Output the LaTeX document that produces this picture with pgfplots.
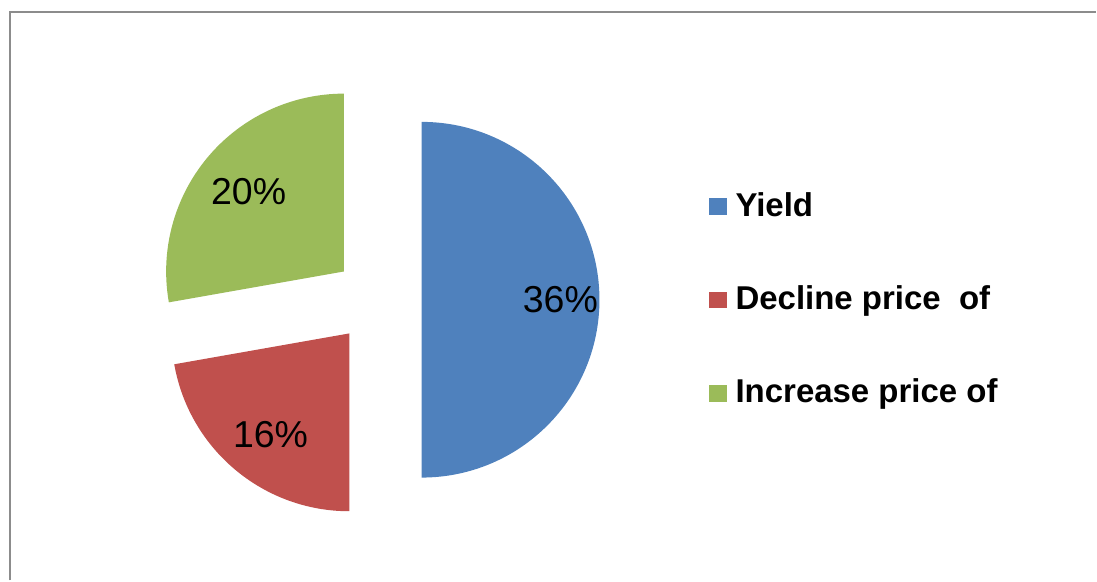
\documentclass[border=0pt]{standalone}
\usepackage{pgfplots}
\pgfplotsset{compat=1.18}
\usepackage{pgfplotstable}
\usepackage{fontspec}
\setmainfont{Liberation Sans}
\definecolor{cBlue}{HTML}{4F81BD}
\definecolor{cRed}{HTML}{C0504D}
\definecolor{cGreen}{HTML}{9BBB59}
\definecolor{cFrame}{HTML}{8C8C8C}

\pgfplotstableread{
label value
Yield 36
Decline 16
Increase 20
}\piedata

\begin{document}
\begin{tikzpicture}
\pgfplotstablegetelem{0}{value}\of\piedata \edef\vA{\pgfplotsretval}
\pgfplotstablegetelem{1}{value}\of\piedata \edef\vB{\pgfplotsretval}
\pgfplotstablegetelem{2}{value}\of\piedata \edef\vC{\pgfplotsretval}
\pgfmathsetmacro\tot{\vA+\vB+\vC}
% angles (clockwise from 90 deg)
\pgfmathsetmacro\sA{90}
\pgfmathsetmacro\eA{\sA-360*\vA/\tot}
\pgfmathsetmacro\sB{\eA}
\pgfmathsetmacro\eB{\sB-360*\vB/\tot}
\pgfmathsetmacro\sC{\eB}
\pgfmathsetmacro\eC{\sC-360*\vC/\tot}
\pgfmathsetmacro\mA{(\sA+\eA)/2}
\pgfmathsetmacro\mB{(\sB+\eB)/2}
\pgfmathsetmacro\mC{(\sC+\eC)/2}
\def\cx{378}\def\cy{281}\def\ex{44}\def\R{178}
\pgfmathsetmacro\xA{\cx+\ex*cos(\mA)}\pgfmathsetmacro\yA{\cy+\ex*sin(\mA)}
\pgfmathsetmacro\xB{\cx+\ex*cos(\mB)}\pgfmathsetmacro\yB{\cy+\ex*sin(\mB)}
\pgfmathsetmacro\xC{\cx+\ex*cos(\mC)}\pgfmathsetmacro\yC{\cy+\ex*sin(\mC)}
\pgfmathsetmacro\lxA{\xA+0.78*\R*cos(\mA)}\pgfmathsetmacro\lyA{\yA+0.78*\R*sin(\mA)}
\pgfmathsetmacro\lxB{\xB+0.72*\R*cos(\mB+2)}\pgfmathsetmacro\lyB{\yB+0.72*\R*sin(\mB+2)}
\pgfmathsetmacro\lxC{\xC+0.70*\R*cos(\mC)}\pgfmathsetmacro\lyC{\yC+0.70*\R*sin(\mC)}
\begin{axis}[
  width=1097pt, height=581pt, scale only axis,
  xmin=0, xmax=1097, ymin=0, ymax=581,
  hide axis, clip=false,
]
\path (axis cs:0,0) rectangle (axis cs:1097,581);
% frame (top and left lines)
\addplot[cFrame, line width=2pt, mark=none] coordinates {(10,0) (10,569) (1097,569)};
% slices
\fill[cBlue] (axis cs:\xA,\yA) -- ++(\sA:\R pt) arc[start angle=\sA, end angle=\eA, radius=\R pt] -- cycle;
\fill[cRed] (axis cs:\xB,\yB) -- ++(\sB:\R pt) arc[start angle=\sB, end angle=\eB, radius=\R pt] -- cycle;
\fill[cGreen] (axis cs:\xC,\yC) -- ++(\sC:\R pt) arc[start angle=\sC, end angle=\eC, radius=\R pt] -- cycle;
% data labels
\node[font=\fontsize{37.5}{44}\selectfont] at (axis cs:\lxA,\lyA) {\vA\%};
\node[font=\fontsize{37.5}{44}\selectfont] at (axis cs:\lxB,\lyB) {\vB\%};
\node[font=\fontsize{37.5}{44}\selectfont] at (axis cs:\lxC,\lyC) {\vC\%};
% legend
\fill[cBlue] (axis cs:710,366) rectangle (axis cs:728,383);
\fill[cRed] (axis cs:710,273) rectangle (axis cs:728,289);
\fill[cGreen] (axis cs:710,179) rectangle (axis cs:728,196);
\node[anchor=base west, inner sep=0pt, font=\fontsize{33}{39}\selectfont\bfseries] at (axis cs:736,364) {Yield};
\node[anchor=base west, inner sep=0pt, font=\fontsize{33}{39}\selectfont\bfseries] at (axis cs:736,271) {Decline price\ \ of};
\node[anchor=base west, inner sep=0pt, font=\fontsize{33}{39}\selectfont\bfseries] at (axis cs:736,178) {Increase price of};
\end{axis}
\end{tikzpicture}
\end{document}
